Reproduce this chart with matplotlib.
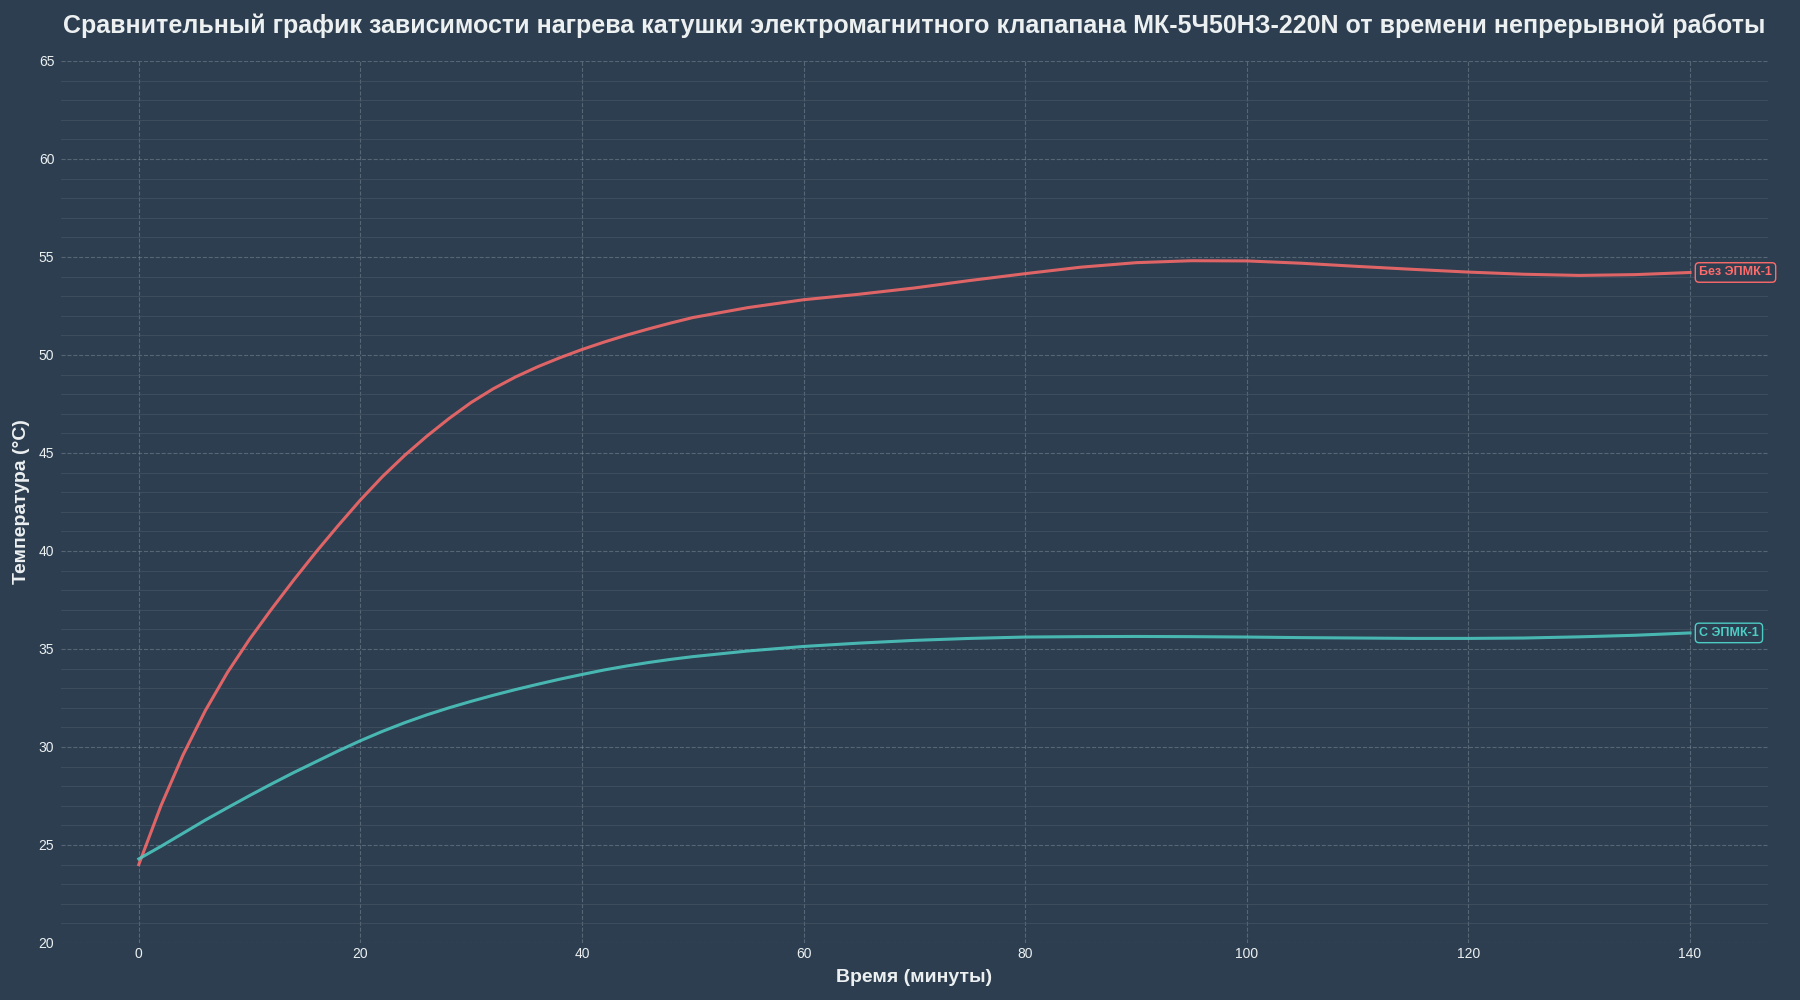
import matplotlib.pyplot as plt
from matplotlib.ticker import MultipleLocator

# время, мин
minutes = [0, 2, 4, 6, 8, 10, 12, 14, 16, 18, 20, 22, 24, 26, 28, 30,
           32, 34, 36, 38, 40, 42, 44, 46, 48, 50, 55, 60, 65, 70,
           75, 80, 85, 90, 95, 100, 105, 110, 115, 120, 125, 130, 135, 140]

# температура катушки без ЭПМК-1, °C
temp_without = [24.0, 27.0, 29.6, 31.85, 33.8, 35.5, 37.05, 38.53, 39.95, 41.3,
                42.6, 43.8, 44.88, 45.86, 46.76, 47.58, 48.28, 48.88, 49.4, 49.86,
                50.28, 50.66, 51.01, 51.33, 51.63, 51.91, 52.42, 52.82, 53.1, 53.42,
                53.8, 54.15, 54.48, 54.71, 54.81, 54.8, 54.68, 54.52, 54.37, 54.23,
                54.12, 54.06, 54.1, 54.21]

# температура катушки с ЭПМК-1, °C
temp_with = [24.29, 24.93, 25.6, 26.27, 26.9, 27.52, 28.12, 28.7, 29.25, 29.8,
             30.32, 30.8, 31.24, 31.64, 32.0, 32.33, 32.64, 32.93, 33.2, 33.46,
             33.7, 33.93, 34.13, 34.31, 34.47, 34.61, 34.9, 35.13, 35.3, 35.44,
             35.54, 35.61, 35.63, 35.64, 35.63, 35.61, 35.58, 35.56, 35.54, 35.54,
             35.56, 35.62, 35.7, 35.82]

series_labels = ['Без ЭПМК-1', 'С ЭПМК-1']
series_colors = ['#FF6B6B', '#4ECDC4']

title = ('Сравнительный график зависимости нагрева катушки электромагнитного '
         'клапапана МК-5Ч50НЗ-220N от времени непрерывной работы')

bg = '#2C3E50'
plt.rcParams['font.family'] = ['Liberation Sans', 'DejaVu Sans']

fig = plt.figure(figsize=(18, 10), dpi=100, facecolor=bg)
ax = fig.add_axes([0.034, 0.057, 0.948, 0.882])
ax.set_facecolor(bg)

for vals, lab, col in zip([temp_without, temp_with], series_labels, series_colors):
    ax.plot(minutes, vals, color=col, lw=2.2, alpha=0.85, zorder=3,
            solid_joinstyle='round')
    ax.annotate(lab, xy=(minutes[-1], vals[-1]), xytext=(6.5, 0),
                textcoords='offset points', va='center', ha='left',
                fontsize=9, fontweight='bold', color=col,
                bbox=dict(boxstyle='round,pad=0.3', fc=bg, ec=col, lw=1))

ax.set_ylim(20, 65)
ax.yaxis.set_major_locator(MultipleLocator(5))
ax.yaxis.set_minor_locator(MultipleLocator(1))
ax.xaxis.set_major_locator(MultipleLocator(20))

ax.grid(which='major', color='#8a97a3', ls='--', lw=0.8, alpha=0.45)
ax.grid(which='minor', axis='y', color='#4a5868', ls='-', lw=0.8, alpha=0.6)
ax.set_axisbelow(True)

for s in ax.spines.values():
    s.set_visible(False)
ax.tick_params(which='both', length=0, colors='#ecf0f1', labelsize=10)
ax.tick_params(axis='x', pad=3)
ax.tick_params(axis='y', pad=5)

ax.set_xlabel('Время (минуты)', fontsize=14, fontweight='bold', color='#ecf0f1', labelpad=6)
ax.set_ylabel('Температура (°С)', fontsize=14, fontweight='bold', color='#ecf0f1', labelpad=6)
ax.set_title(title, fontsize=18, fontweight='bold', color='#ecf0f1', pad=20)

fig.savefig('out.png', dpi=100, facecolor=bg)
